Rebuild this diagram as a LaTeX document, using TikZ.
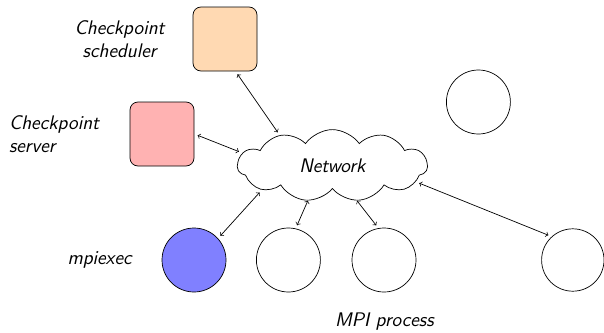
\documentclass[tikz,border=0pt]{standalone}
\usepackage{amsmath}
\usepackage{tikz}
\usetikzlibrary{shapes.symbols}

\begin{document}
\begin{tikzpicture}[
    font=\sffamily\itshape\fontsize{14}{16.5}\selectfont,
    every path/.style={line width=0.5pt},
    box/.style={draw, rounded corners=0.2cm, minimum size=1.6cm, inner sep=0pt},
    proc/.style={draw, circle, minimum size=1.6cm, inner sep=0pt},
    link/.style={<->, shorten <=2.5pt, shorten >=2.5pt}
]
    \useasboundingbox (0,0) rectangle (15.1,8.3);

    % Checkpoint scheduler and server
    \node[box, fill=orange!30] (sched) at (5.625,7.325) {};
    \node[align=center] (schedlbl) at (2.99,7.325) {Checkpoint\\scheduler};
    \node[box, fill=red!30] (server) at (4.05,4.95) {};
    \node[align=left, anchor=west] (serverlbl) at (0.1,4.95) {Checkpoint\\server};

    % Network cloud
    \node[draw, cloud, cloud puffs=11, cloud puff arc=110, cloud ignores aspect,
          minimum width=4.75cm, minimum height=1.8cm] (net) at (8.31,4.16) {Network};

    % MPI processes
    \node[proc] (far) at (11.96,5.75) {};
    \node[proc, fill=blue!50] (mpi) at (4.85,1.8) {};
    \node (mpilbl) at (2.49,1.8) {mpiexec};
    \node[proc] (p1) at (7.21,1.8) {};
    \node[proc] (p2) at (9.6,1.8) {};
    \node[proc, minimum size=1.56cm] (p3) at (14.32,1.8) {};
    \node (proclbl) at (9.61,0.27) {MPI process};

    % Links to the network
    \draw[link] (sched.-72) -- (net.150);
    \draw[link] (server.east) -- (net.172);
    \draw[link] (mpi.42) -- (net.199);
    \draw[link, shorten >=0pt] (p1.77) -- (net.235);
    \draw[link, shorten >=0pt] (p2.100) -- (net.-55);
    \draw[link] (p3.132) -- (net.-11);
\end{tikzpicture}
\end{document}
